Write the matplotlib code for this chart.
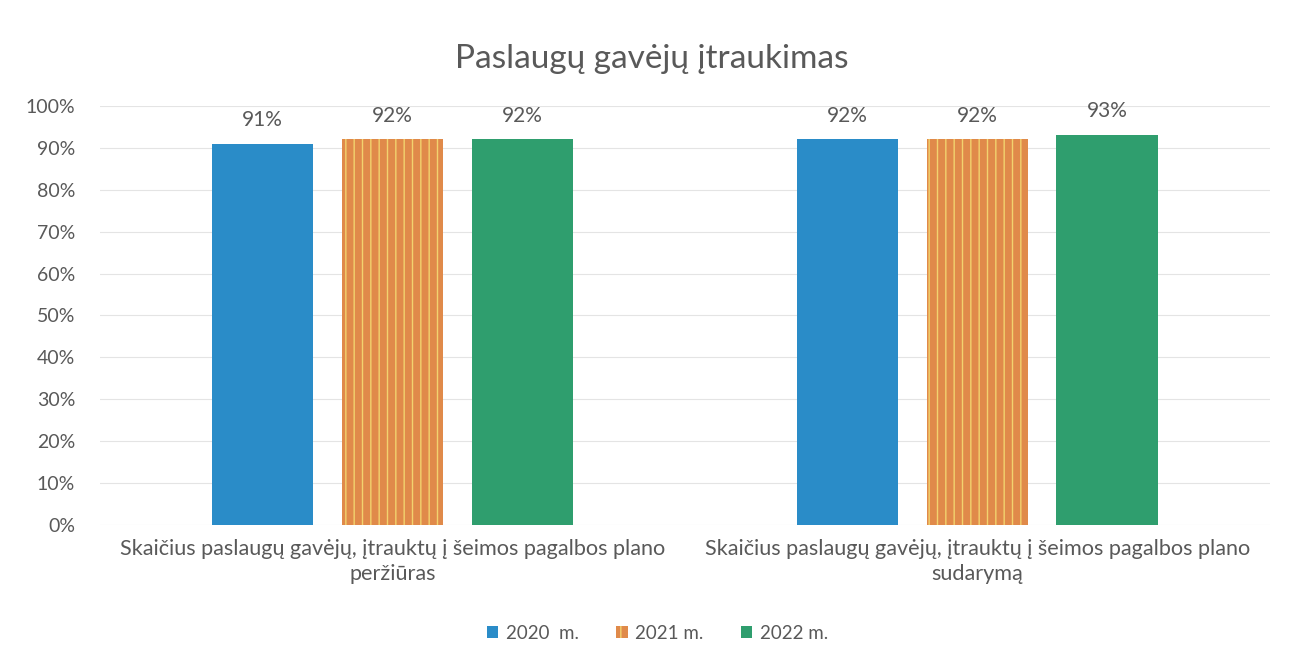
import numpy as np
import matplotlib
matplotlib.use("Agg")
import matplotlib.pyplot as plt
from matplotlib.ticker import PercentFormatter

plt.rcParams['font.family'] = ['Lato', 'DejaVu Sans']

categories = [
    "Skaičius paslaugų gavėjų, įtrauktų į šeimos pagalbos plano\nperžiūras",
    "Skaičius paslaugų gavėjų, įtrauktų į šeimos pagalbos plano\nsudarymą",
]
years = ["2020  m.", "2021 m.", "2022 m."]
v2020 = [0.91, 0.92]
v2021 = [0.92, 0.92]
v2022 = [0.92, 0.93]
y_ticks = np.arange(0, 1.01, 0.1)

grey = "#595959"
colors = ["#2a8cc8", "#e08a4a", "#2f9e6e"]

fig = plt.figure(figsize=(12.89, 6.70), dpi=100)
ax = fig.add_axes([0.0776, 0.2164, 0.9074, 0.6256])

x = np.arange(len(categories))
width = 0.173
step = 0.222
series = [v2020, v2021, v2022]
for i, (vals, c, lab) in enumerate(zip(series, colors, years)):
    kw = {}
    if i == 1:
        # striped fill for the 2021 series
        kw = dict(hatch="||", edgecolor="#f2d36e", linewidth=0)
    bars = ax.bar(x + (i - 1) * step, vals, width, color=c, label=lab, zorder=3, **kw)
    ax.bar_label(bars, labels=[f"{v:.0%}" for v in vals], padding=10,
                 fontsize=15, color=grey)

ax.set_xlim(-0.5, 1.5)
ax.set_ylim(0, 1.0)
ax.set_yticks(y_ticks)
ax.yaxis.set_major_formatter(PercentFormatter(1.0, decimals=0))
ax.set_xticks(x)
ax.set_xticklabels(categories, fontsize=15.6, color=grey, linespacing=1.3)
ax.tick_params(axis="y", labelsize=14, labelcolor=grey, length=0, pad=18)
ax.tick_params(axis="x", length=0, pad=10)
ax.grid(axis="y", color="#e4e4e4", linewidth=0.8, zorder=0)
for s in ax.spines.values():
    s.set_visible(False)

fig.suptitle("Paslaugų gavėjų įtraukimas", x=0.506, y=0.935, fontsize=24, color=grey)
fig.legend(loc="center", bbox_to_anchor=(0.51, 0.055), ncol=3, frameon=False,
           fontsize=13.5, labelcolor=grey, handlelength=0.6, handleheight=0.6,
           handletextpad=0.4, columnspacing=2.0)

fig.savefig("out.png", dpi=100, facecolor="white")
